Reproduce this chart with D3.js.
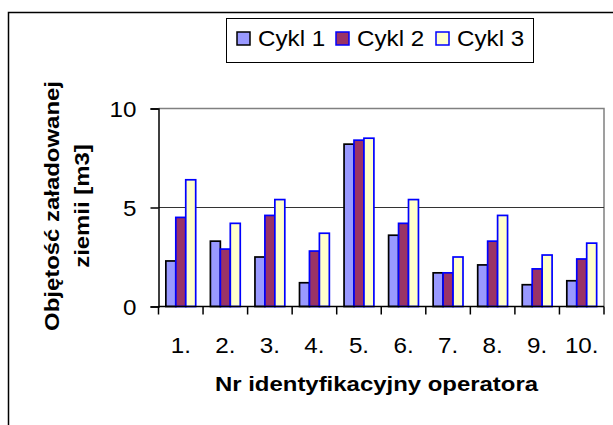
<!DOCTYPE html>
<html>
<head>
<meta charset="utf-8">
<script src="https://cdn.jsdelivr.net/npm/d3@7"></script>
<style>
  body { margin: 0; background: #fff; }
  text { font-family: "Liberation Sans", Arial, sans-serif; fill: #000; }
</style>
</head>
<body>
<div id="chart"></div>
<script>
const categories = ["1.", "2.", "3.", "4.", "5.", "6.", "7.", "8.", "9.", "10."];
const seriesNames = ["Cykl 1", "Cykl 2", "Cykl 3"];
const cykl1 = [2.3, 3.3, 2.5, 1.2, 8.2, 3.6, 1.7, 2.1, 1.1, 1.3];
const cykl2 = [4.5, 2.9, 4.6, 2.8, 8.4, 4.2, 1.7, 3.3, 1.9, 2.4];
const cykl3 = [6.4, 4.2, 5.4, 3.7, 8.5, 5.4, 2.5, 4.6, 2.6, 3.2];
const yTicks = [0, 5, 10];

const fills = ["#9999FF", "#993366", "#FFFFCC"];
const strokes = ["#000000", "#0000FF", "#0000FF"];

const width = 613;
const height = 425;
const plot = { left: 158.5, right: 604, top: 108.5, bottom: 306.5 };

// the original text is a bit wider than it is tall
const sxText = 1.1;
const sxTitle = 1.14;

const svg = d3.select("#chart")
    .append("svg")
    .attr("width", width)
    .attr("height", height);

// outer chart frame (runs off the right and bottom edge)
svg.append("rect")
    .attr("x", 8.5).attr("y", 12.5)
    .attr("width", 700).attr("height", 500)
    .attr("fill", "none")
    .attr("stroke", "#000")
    .attr("stroke-width", 1.5);

const x0 = d3.scaleBand()
    .domain(categories)
    .range([plot.left, plot.right])
    .paddingInner(0.33)
    .paddingOuter(0.165);

const x1 = d3.scaleBand()
    .domain(seriesNames)
    .range([0, x0.bandwidth()]);

const y = d3.scaleLinear()
    .domain([0, 10])
    .range([plot.bottom, plot.top]);

// plot area border (grey top and right)
svg.append("path")
    .attr("d", `M${plot.left},${y(10)}H${plot.right}V${plot.bottom}`)
    .attr("fill", "none")
    .attr("stroke", "#808080")
    .attr("stroke-width", 1.5);

// gridline at 5
svg.append("line")
    .attr("x1", plot.left).attr("x2", plot.right)
    .attr("y1", y(5)).attr("y2", y(5))
    .attr("stroke", "#333")
    .attr("stroke-width", 1);

const data = categories.map((c, i) => ({
    cat: c,
    values: [cykl1[i], cykl2[i], cykl3[i]]
}));

const groups = svg.append("g")
    .selectAll("g")
    .data(data)
    .enter().append("g")
    .attr("transform", d => `translate(${x0(d.cat)},0)`);

groups.selectAll("rect")
    .data(d => d.values.map((v, k) => ({ name: seriesNames[k], value: v, k: k })))
    .enter().append("rect")
    .attr("x", d => x1(d.name))
    .attr("y", d => y(d.value))
    .attr("width", x1.bandwidth())
    .attr("height", d => y(0) - y(d.value))
    .attr("fill", d => fills[d.k])
    .attr("stroke", d => strokes[d.k])
    .attr("stroke-width", 1.7);

// y axis
const yAxis = svg.append("g")
    .attr("transform", `translate(${plot.left},0)`)
    .call(d3.axisLeft(y).tickValues(yTicks).tickSize(8).tickFormat(""));
yAxis.select(".domain").attr("stroke", "#000").attr("stroke-width", 1.5);
yAxis.selectAll(".tick line").attr("stroke", "#000").attr("stroke-width", 1.5);
yAxis.selectAll(".tick").append("text")
    .attr("transform", `translate(-22,0) scale(${sxText},1)`)
    .attr("dy", "0.35em")
    .attr("text-anchor", "end")
    .style("font-size", "22px")
    .style("font-family", "'Liberation Sans', Arial, sans-serif")
    .attr("fill", "#000")
    .text(d => d);

// x axis, ticks between categories
const xAxis = svg.append("g")
    .attr("transform", `translate(0,${plot.bottom})`);
xAxis.append("line")
    .attr("x1", plot.left).attr("x2", plot.right)
    .attr("stroke", "#000").attr("stroke-width", 1.5);
const step = x0.step();
xAxis.selectAll(".sep")
    .data(d3.range(categories.length + 1))
    .enter().append("line")
    .attr("x1", i => plot.left + i * step)
    .attr("x2", i => plot.left + i * step)
    .attr("y1", 0).attr("y2", 8)
    .attr("stroke", "#000").attr("stroke-width", 1.5);
xAxis.selectAll(".lbl")
    .data(categories)
    .enter().append("text")
    .attr("transform", d => `translate(${x0(d) + x0.bandwidth() / 2},46) scale(${sxText},1)`)
    .attr("text-anchor", "middle")
    .style("font-size", "22px")
    .text(d => d);

// axis titles
svg.append("text")
    .attr("transform", `translate(376.5,391) scale(${sxTitle},1)`)
    .attr("text-anchor", "middle")
    .style("font-size", "21px")
    .style("font-weight", "bold")
    .text("Nr identyfikacyjny operatora");

const yTitle = svg.append("text")
    .attr("transform", `translate(0,206) rotate(-90) scale(${sxTitle},1)`)
    .attr("text-anchor", "middle")
    .style("font-size", "21px")
    .style("font-weight", "bold");
yTitle.append("tspan").attr("x", 0).attr("y", 59).text("Objętość załadowanej");
yTitle.append("tspan").attr("x", 0).attr("y", 89).text("ziemii [m3]");

// legend
const legend = svg.append("g");
legend.append("rect")
    .attr("x", 226.5).attr("y", 18.5)
    .attr("width", 307).attr("height", 44)
    .attr("fill", "#fff")
    .attr("stroke", "#000")
    .attr("stroke-width", 1);
const legendX = [237, 336, 436];
const items = legend.selectAll(".item")
    .data(seriesNames)
    .enter().append("g")
    .attr("transform", (d, i) => `translate(${legendX[i]},32)`);
items.append("rect")
    .attr("width", 13).attr("height", 13)
    .attr("fill", (d, i) => fills[i])
    .attr("stroke", (d, i) => strokes[i])
    .attr("stroke-width", 1.5);
items.append("text")
    .attr("transform", `translate(21,14) scale(${sxText},1)`)
    .style("font-size", "22px")
    .text(d => d);
</script>
</body>
</html>
